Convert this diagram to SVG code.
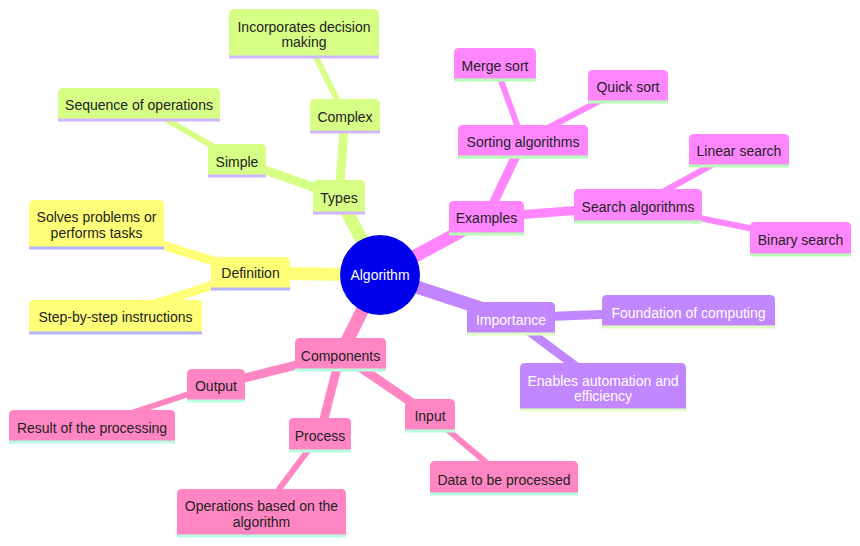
<svg xmlns="http://www.w3.org/2000/svg" width="860" height="546" viewBox="0 0 860 546">
<style>
text{font-family:"Liberation Sans",Arial,sans-serif;font-size:14px;text-anchor:middle;fill:#222}
.e{fill:none;stroke-linecap:butt}
.d1{stroke-width:13}.d2{stroke-width:9}.d3{stroke-width:6}
.sY{stroke:#ffff78}.sG{stroke:#d7ff86}.sM{stroke:#ff86ff}.sP{stroke:#c286ff}.sK{stroke:#ff86c2}
.fY{fill:#ffff78}.fG{fill:#d7ff86}.fM{fill:#ff86ff}.fP{fill:#c286ff}.fK{fill:#ff86c2}
.lY{stroke:#b4b4ff;stroke-width:3}.lG{stroke:#d2b8ff;stroke-width:3}.lM{stroke:#b8ffb8;stroke-width:3}.lP{stroke:#e2ffc4;stroke-width:3}.lK{stroke:#b8ffe0;stroke-width:3}
.w{fill:#ffffff}
</style>
<rect width="860" height="546" fill="#ffffff"/>
<g id="connectors">
<line class="e d1 sY" x1="380" y1="275" x2="250.5" y2="273"/>
<line class="e d2 sY" x1="250.5" y1="273" x2="96.5" y2="224"/>
<line class="e d2 sY" x1="250.5" y1="273" x2="115.5" y2="316.5"/>
<line class="e d1 sG" x1="380" y1="275" x2="339" y2="196.5"/>
<line class="e d2 sG" x1="339" y1="196.5" x2="237" y2="160"/>
<line class="e d3 sG" x1="237" y1="160" x2="139" y2="104"/>
<line class="e d2 sG" x1="339" y1="196.5" x2="345" y2="115.5"/>
<line class="e d3 sG" x1="345" y1="115.5" x2="304" y2="33"/>
<line class="e d1 sM" x1="380" y1="275" x2="486.5" y2="217.5"/>
<line class="e d2 sM" x1="486.5" y1="217.5" x2="523" y2="141"/>
<line class="e d3 sM" x1="523" y1="141" x2="495" y2="64"/>
<line class="e d3 sM" x1="523" y1="141" x2="628" y2="86"/>
<line class="e d2 sM" x1="486.5" y1="217.5" x2="638" y2="205.5"/>
<line class="e d3 sM" x1="638" y1="205.5" x2="739" y2="150"/>
<line class="e d3 sM" x1="638" y1="205.5" x2="800.5" y2="238.5"/>
<line class="e d1 sP" x1="380" y1="275" x2="511" y2="318"/>
<line class="e d2 sP" x1="511" y1="318" x2="688.5" y2="311"/>
<line class="e d2 sP" x1="511" y1="318" x2="603" y2="386.5"/>
<line class="e d1 sK" x1="380" y1="275" x2="340.5" y2="354"/>
<line class="e d2 sK" x1="340.5" y1="354" x2="216" y2="385"/>
<line class="e d3 sK" x1="216" y1="385" x2="92" y2="426"/>
<line class="e d2 sK" x1="340.5" y1="354" x2="320" y2="434.5"/>
<line class="e d3 sK" x1="320" y1="434.5" x2="261.5" y2="512.5"/>
<line class="e d2 sK" x1="340.5" y1="354" x2="430" y2="415"/>
<line class="e d3 sK" x1="430" y1="415" x2="504" y2="477.5"/>
</g>
<g id="root">
<circle cx="380" cy="275" r="40" fill="#0000ec"/>
<text x="380" y="280" class="w">Algorithm</text>
</g>
<g id="definition">
<path class="fY" d="M211,289V262Q211,257 216,257H285Q290,257 290,262V289Z"/>
<line class="lY" x1="211" y1="289" x2="290" y2="289"/>
<text x="250.5" y="278">Definition</text>
</g>
<g id="solves">
<path class="fY" d="M29,248V205Q29,200 34,200H159Q164,200 164,205V248Z"/>
<line class="lY" x1="29" y1="248" x2="164" y2="248"/>
<text x="96.5" y="222">Solves problems or</text>
<text x="96.5" y="238">performs tasks</text>
</g>
<g id="step">
<path class="fY" d="M29,333V305Q29,300 34,300H197Q202,300 202,305V333Z"/>
<line class="lY" x1="29" y1="333" x2="202" y2="333"/>
<text x="115.5" y="322">Step-by-step instructions</text>
</g>
<g id="types">
<path class="fG" d="M313,213V185Q313,180 318,180H360Q365,180 365,185V213Z"/>
<line class="lG" x1="313" y1="213" x2="365" y2="213"/>
<text x="339" y="203">Types</text>
</g>
<g id="simple">
<path class="fG" d="M208,176V149Q208,144 213,144H261Q266,144 266,149V176Z"/>
<line class="lG" x1="208" y1="176" x2="266" y2="176"/>
<text x="237" y="167">Simple</text>
</g>
<g id="sequence">
<path class="fG" d="M58,120V93Q58,88 63,88H215Q220,88 220,93V120Z"/>
<line class="lG" x1="58" y1="120" x2="220" y2="120"/>
<text x="139" y="110">Sequence of operations</text>
</g>
<g id="complex">
<path class="fG" d="M310,132V104Q310,99 315,99H375Q380,99 380,104V132Z"/>
<line class="lG" x1="310" y1="132" x2="380" y2="132"/>
<text x="345" y="122">Complex</text>
</g>
<g id="incorporates">
<path class="fG" d="M229,57V14Q229,9 234,9H374Q379,9 379,14V57Z"/>
<line class="lG" x1="229" y1="57" x2="379" y2="57"/>
<text x="304" y="32">Incorporates decision</text>
<text x="304" y="47">making</text>
</g>
<g id="examples">
<path class="fM" d="M449,234V206Q449,201 454,201H519Q524,201 524,206V234Z"/>
<line class="lM" x1="449" y1="234" x2="524" y2="234"/>
<text x="486.5" y="223">Examples</text>
</g>
<g id="sorting">
<path class="fM" d="M458,157V130Q458,125 463,125H583Q588,125 588,130V157Z"/>
<line class="lM" x1="458" y1="157" x2="588" y2="157"/>
<text x="523" y="147">Sorting algorithms</text>
</g>
<g id="merge">
<path class="fM" d="M454,80V53Q454,48 459,48H531Q536,48 536,53V80Z"/>
<line class="lM" x1="454" y1="80" x2="536" y2="80"/>
<text x="495" y="71">Merge sort</text>
</g>
<g id="quick">
<path class="fM" d="M588,102V75Q588,70 593,70H663Q668,70 668,75V102Z"/>
<line class="lM" x1="588" y1="102" x2="668" y2="102"/>
<text x="628" y="92">Quick sort</text>
</g>
<g id="search">
<path class="fM" d="M574,222V194Q574,189 579,189H697Q702,189 702,194V222Z"/>
<line class="lM" x1="574" y1="222" x2="702" y2="222"/>
<text x="638" y="212">Search algorithms</text>
</g>
<g id="linear">
<path class="fM" d="M689,166V139Q689,134 694,134H784Q789,134 789,139V166Z"/>
<line class="lM" x1="689" y1="166" x2="789" y2="166"/>
<text x="739" y="156">Linear search</text>
</g>
<g id="binary">
<path class="fM" d="M750,255V227Q750,222 755,222H846Q851,222 851,227V255Z"/>
<line class="lM" x1="750" y1="255" x2="851" y2="255"/>
<text x="800.5" y="245">Binary search</text>
</g>
<g id="importance">
<path class="fP" d="M467,334V307Q467,302 472,302H550Q555,302 555,307V334Z"/>
<line class="lP" x1="467" y1="334" x2="555" y2="334"/>
<text x="511" y="325" class="w">Importance</text>
</g>
<g id="foundation">
<path class="fP" d="M602,327V300Q602,295 607,295H770Q775,295 775,300V327Z"/>
<line class="lP" x1="602" y1="327" x2="775" y2="327"/>
<text x="688.5" y="318" class="w">Foundation of computing</text>
</g>
<g id="enables">
<path class="fP" d="M520,410V368Q520,363 525,363H681Q686,363 686,368V410Z"/>
<line class="lP" x1="520" y1="410" x2="686" y2="410"/>
<text x="603" y="386" class="w">Enables automation and</text>
<text x="603" y="401" class="w">efficiency</text>
</g>
<g id="components">
<path class="fK" d="M295,370V343Q295,338 300,338H381Q386,338 386,343V370Z"/>
<line class="lK" x1="295" y1="370" x2="386" y2="370"/>
<text x="340.5" y="361">Components</text>
</g>
<g id="output">
<path class="fK" d="M187,401V374Q187,369 192,369H240Q245,369 245,374V401Z"/>
<line class="lK" x1="187" y1="401" x2="245" y2="401"/>
<text x="216" y="391">Output</text>
</g>
<g id="result">
<path class="fK" d="M9,442V415Q9,410 14,410H170Q175,410 175,415V442Z"/>
<line class="lK" x1="9" y1="442" x2="175" y2="442"/>
<text x="92" y="433">Result of the processing</text>
</g>
<g id="process">
<path class="fK" d="M289,451V423Q289,418 294,418H346Q351,418 351,423V451Z"/>
<line class="lK" x1="289" y1="451" x2="351" y2="451"/>
<text x="320" y="441">Process</text>
</g>
<g id="operations">
<path class="fK" d="M177,536V494Q177,489 182,489H341Q346,489 346,494V536Z"/>
<line class="lK" x1="177" y1="536" x2="346" y2="536"/>
<text x="261.5" y="511">Operations based on the</text>
<text x="261.5" y="527">algorithm</text>
</g>
<g id="input">
<path class="fK" d="M405,431V404Q405,399 410,399H450Q455,399 455,404V431Z"/>
<line class="lK" x1="405" y1="431" x2="455" y2="431"/>
<text x="430" y="421">Input</text>
</g>
<g id="data">
<path class="fK" d="M430,494V466Q430,461 435,461H573Q578,461 578,466V494Z"/>
<line class="lK" x1="430" y1="494" x2="578" y2="494"/>
<text x="504" y="485">Data to be processed</text>
</g>
</svg>
